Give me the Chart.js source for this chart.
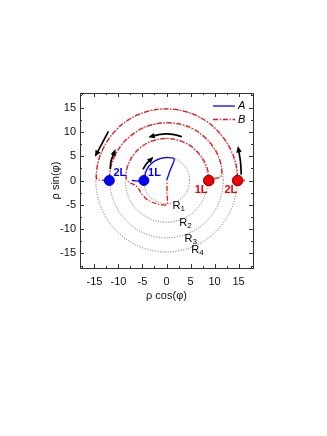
<!DOCTYPE html>
<html><head><meta charset="utf-8">
<script src="https://cdn.jsdelivr.net/npm/chart.js@4.4.0/dist/chart.umd.min.js"></script>
<style>html,body{margin:0;padding:0;background:#fff;}canvas{display:block}</style>
</head><body>
<canvas id="c" width="327" height="436"></canvas>
<script>
// ---- data ----
const axisMin = -18, axisMax = 18;
const tickValues = [-15, -10, -5, 0, 5, 10, 15];
const minorTickValues = [-17.5, -12.5, -7.5, -2.5, 2.5, 7.5, 12.5, 17.5];

const seriesNames = ['A', 'B'];
const curveA = [[-7.2,0],[-4.7,0],[-4.4,1.5],[-3.7,2.9],[-2.6,3.9],[-1.3,4.5],[0.2,4.7],[1.6,4.45],[0.8,2.2],[0.05,0.1]];
const curveB = [[16.3,0],[14.8,0],[14.75,1.4],[14.45,3.4],[13.8,5.4],[12.7,7.6],[11.2,9.6],[9.5,11.3],[7.5,12.7],[5.2,13.8],[2.6,14.5],[0,14.75],[-2.6,14.55],[-5.2,13.85],[-7.6,12.7],[-9.7,11.2],[-11.4,9.4],[-12.8,7.3],[-13.8,5.2],[-14.35,3.3],[-14.55,1.8],[-14.6,0.6],[-14.3,0.15],[-13.2,0.05],[-11.9,0],
  [-11.85,1.4],[-11.55,3.0],[-10.9,4.8],[-9.9,6.6],[-8.5,8.3],[-6.8,9.7],[-4.8,10.9],[-2.5,11.6],[0,11.9],[2.5,11.7],[4.8,11.0],[6.9,9.8],[8.7,8.2],[10.1,6.4],[11.0,4.5],[11.45,2.7],[11.5,1.4],[11.2,0.7],[10.4,0.5],[9.5,0.35],[8.8,0],
  [8.75,1.2],[8.5,2.5],[8.0,3.7],[7.2,5.0],[6.1,6.2],[4.8,7.3],[3.3,8.0],[1.6,8.5],[0,8.65],[-1.7,8.5],[-3.4,8.0],[-4.9,7.2],[-6.2,6.1],[-7.2,4.8],[-7.9,3.5],[-8.3,2.2],[-8.4,1.0],[-8.3,0.2],[-7.6,-0.5],[-6.6,-0.9],[-5.8,-1.7],[-5.3,-2.6],[-4.6,-3.4],[-3.8,-4.1],[-2.3,-4.7],[-1.0,-5.0],[0.1,-4.9],[0.1,-2.5],[0.1,0]];

const blueDots = [[-11.9,0],[-4.7,0]];
const redDots = [[8.8,0],[14.8,0]];

const circleRadii = [4.8, 8.6, 11.8, 14.7];
const circleNames = ['R','R','R','R'];
const circleSubs = ['1','2','3','4'];
const circleLabelPos = [[2.6,-5.2],[4.0,-8.7],[5.1,-12.0],[6.5,-14.3]];

const dotLabels = ['2L','1L','1L','2L'];
const dotLabelColors = ['#0000ff','#0000ff','#ee0000','#ee0000'];
const dotLabelPos = [[-9.7,1.5],[-2.5,1.5],[7.2,-1.9],[13.4,-1.9]];

const arrowPaths = [
  [[-12.1,10.1],[-13.0,8.4],[-13.8,6.9],[-14.5,5.6]],
  [[-11.75,2.4],[-11.5,4.1],[-10.9,5.7]],
  [[3.2,9.0],[1.6,9.45],[0,9.6],[-1.6,9.45],[-3.0,9.1]],
  [[15.55,1.2],[15.4,3.8],[15.0,6.3]],
  [[-4.9,2.3],[-4.2,3.4],[-3.3,4.3]]
];

const xTitle = 'ρ cos(φ)';
const yTitle = 'ρ sin(φ)';

// ---- build chart ----
const toPts = arr => arr.map(p => ({x: p[0], y: p[1]}));
const FONT = "'Liberation Sans', Arial, sans-serif";
const dashB = [5, 1.8, 1.2, 1.8];

const datasets = [
  {label: seriesNames[1], data: toPts(curveB), showLine: true, borderColor: '#ee1111', borderWidth: 1.3, borderDash: dashB, pointRadius: 0, tension: 0.3, order: 4},
  {label: seriesNames[0], data: toPts(curveA), showLine: true, borderColor: '#0000ff', borderWidth: 1.3, pointRadius: 0, tension: 0.3, order: 3},
];
arrowPaths.forEach((p, i) => datasets.push({label: 'arrow' + i, data: toPts(p), showLine: true, borderColor: '#000', borderWidth: 1.7, pointRadius: 0, tension: 0.4, order: 2, isArrow: true}));
datasets.push({label: 'blueDots', data: toPts(blueDots), showLine: false, pointRadius: 5, pointBackgroundColor: '#0000ff', pointBorderColor: '#0000cc', pointBorderWidth: 1, order: 0});
datasets.push({label: 'redDots', data: toPts(redDots), showLine: false, pointRadius: 5.3, pointBackgroundColor: '#ee0000', pointBorderColor: '#700', pointBorderWidth: 1, order: 0});

const TICK_COLOR = '#333';
const overlay = {
  id: 'overlay',
  beforeDatasetsDraw(chart) {
    const {ctx, scales: {x, y}} = chart;
    const cx = x.getPixelForValue(0), cy = y.getPixelForValue(0);
    ctx.save();
    ctx.strokeStyle = '#444'; ctx.lineWidth = 0.8; ctx.setLineDash([1, 1.6]);
    circleRadii.forEach(r => {
      const rx = Math.abs(x.getPixelForValue(r) - cx), ry = Math.abs(y.getPixelForValue(r) - cy);
      ctx.beginPath(); ctx.ellipse(cx, cy, rx, ry, 0, 0, Math.PI * 2); ctx.stroke();
    });
    ctx.restore();
  },
  afterDatasetsDraw(chart) {
    const {ctx, scales: {x, y}} = chart;
    ctx.save();
    // arrowheads
    chart.data.datasets.forEach((ds, i) => {
      if (!ds.isArrow) return;
      const pts = chart.getDatasetMeta(i).data;
      const a = pts[pts.length - 2], b = pts[pts.length - 1];
      let dx = b.x - a.x, dy = b.y - a.y; const L = Math.hypot(dx, dy); dx /= L; dy /= L;
      const tipX = b.x + dx * 4, tipY = b.y + dy * 4, bx = b.x - dx * 2.5, by = b.y - dy * 2.5;
      ctx.fillStyle = '#000'; ctx.beginPath();
      ctx.moveTo(tipX, tipY); ctx.lineTo(bx - dy * 2.8, by + dx * 2.8); ctx.lineTo(bx + dy * 2.8, by - dx * 2.8); ctx.closePath(); ctx.fill();
    });
    // circle labels
    ctx.fillStyle = '#000'; ctx.textBaseline = 'middle'; ctx.textAlign = 'left';
    circleLabelPos.forEach((p, i) => {
      const px = x.getPixelForValue(p[0]), py = y.getPixelForValue(p[1]);
      ctx.font = '11px ' + FONT;
      const w = ctx.measureText(circleNames[i]).width;
      const x0 = px - (w + 5) / 2;
      ctx.fillText(circleNames[i], x0, py);
      ctx.font = '8px ' + FONT;
      ctx.fillText(circleSubs[i], x0 + w, py + 3);
    });
    // dot labels
    ctx.font = 'bold 11px ' + FONT; ctx.textAlign = 'center';
    dotLabelPos.forEach((p, i) => {
      ctx.fillStyle = dotLabelColors[i];
      ctx.fillText(dotLabels[i], x.getPixelForValue(p[0]), y.getPixelForValue(p[1]));
    });
    // legend
    const lx0 = 213, lx1 = 235, ly = [106, 119.5];
    ctx.lineWidth = 1.3;
    ctx.strokeStyle = '#0000ff'; ctx.setLineDash([]);
    ctx.beginPath(); ctx.moveTo(lx0, ly[0]); ctx.lineTo(lx1, ly[0]); ctx.stroke();
    ctx.strokeStyle = '#ee1111'; ctx.setLineDash(dashB);
    ctx.beginPath(); ctx.moveTo(lx0, ly[1]); ctx.lineTo(lx1, ly[1]); ctx.stroke();
    ctx.setLineDash([]);
    ctx.fillStyle = '#000'; ctx.font = 'italic 11px ' + FONT; ctx.textAlign = 'left';
    ctx.fillText(seriesNames[0], 238, ly[0]);
    ctx.fillText(seriesNames[1], 238, ly[1]);
    ctx.restore();
  },
  afterDraw(chart) {
    const {ctx, chartArea: a, scales: {x, y}} = chart;
    ctx.save();
    ctx.strokeStyle = TICK_COLOR; ctx.lineWidth = 1;
    ctx.strokeRect(Math.round(a.left) + 0.5, Math.round(a.top) + 0.5, Math.round(a.right - a.left), Math.round(a.bottom - a.top));
    const drawT = (vals, len) => {
      vals.forEach(v => {
        const px = Math.round(x.getPixelForValue(v)) + 0.5, py = Math.round(y.getPixelForValue(v)) + 0.5;
        ctx.beginPath();
        ctx.moveTo(px, a.bottom); ctx.lineTo(px, a.bottom - len);
        ctx.moveTo(px, a.top); ctx.lineTo(px, a.top + len);
        ctx.moveTo(a.left, py); ctx.lineTo(a.left + len, py);
        ctx.moveTo(a.right, py); ctx.lineTo(a.right - len, py);
        ctx.stroke();
      });
    };
    drawT(tickValues, 4);
    drawT(minorTickValues, 2);
    ctx.restore();
  }
};

const setTicks = s => { s.ticks = tickValues.map(v => ({value: v})); };

new Chart(document.getElementById('c'), {
  type: 'scatter',
  data: {datasets},
  options: {
    responsive: false, animation: false, devicePixelRatio: 1,
    layout: {padding: {top: 93, right: 74, bottom: 133, left: 40}},
    plugins: {legend: {display: false}, tooltip: {enabled: false}},
    scales: {
      x: {
        type: 'linear', min: axisMin, max: axisMax,
        afterBuildTicks: setTicks,
        afterFit: s => { s.height = 35; },
        grid: {display: false, drawTicks: false}, border: {display: false},
        ticks: {padding: 7, color: '#111', font: {family: FONT, size: 11}, maxRotation: 0, autoSkip: false},
        title: {display: true, text: xTitle, color: '#111', font: {family: FONT, size: 11}, padding: {top: 0, bottom: 0}}
      },
      y: {
        type: 'linear', min: axisMin, max: axisMax,
        afterBuildTicks: setTicks,
        afterFit: s => { s.width = 40; },
        grid: {display: false, drawTicks: false}, border: {display: false},
        ticks: {padding: 4, color: '#111', font: {family: FONT, size: 11}, autoSkip: false},
        title: {display: true, text: yTitle, color: '#111', font: {family: FONT, size: 11}, padding: {top: 9, bottom: 0}}
      }
    }
  },
  plugins: [overlay]
});
</script>
</body></html>
